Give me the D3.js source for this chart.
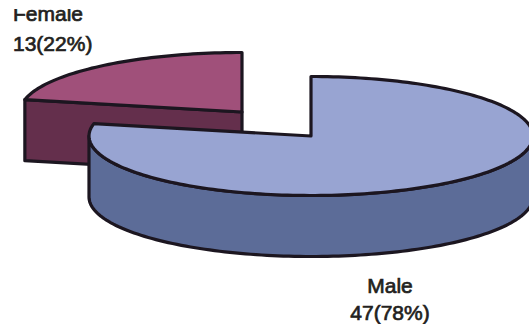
<!DOCTYPE html>
<html lang="en">
<head>
    <meta charset="UTF-8">
    <title>Gender distribution</title>
    <script src="https://d3js.org/d3.v7.min.js"></script>
    <style>
        html, body { margin: 0; padding: 0; background: #fff; overflow: hidden; }
        text { font-family: "Liberation Sans", Arial, sans-serif; font-size: 21px; fill: #231f20; stroke: #231f20; stroke-width: 0.7px; }
    </style>
</head>
<body>
<svg id="chart" width="529" height="324"></svg>
<script>
    var categories = ["Male", "Female"];
    var counts = [47, 13];
    var percents = [78, 22];
    var topColors = ["#98a4d2", "#a0507a"];
    var sideColors = ["#5c6c98", "#642f4c"];

    var outline = "#1c1620";

    var svg = d3.select("#chart");

    // exploded pie: each slice has its own centre on the tilted plane
    var centers = [[311, 136], [242, 112]];
    var rx = 222, ry = 59.5, depth = 61;

    var xScale = d3.scaleLinear().domain([-1, 1]).range([-rx, rx]);
    var yScale = d3.scaleLinear().domain([-1, 1]).range([ry, -ry]);

    var slices = d3.pie().sort(null)(counts);
    var line = d3.line();

    function rim(c, a0, a1, dy) {
        var n = Math.max(2, Math.ceil(Math.abs(a1 - a0) * 40));
        return d3.range(n + 1).map(function(i) {
            var a = a0 + (a1 - a0) * i / n;
            return [c[0] + xScale(Math.sin(a)), c[1] + yScale(Math.cos(a)) + dy];
        });
    }

    function drawFace(points, fill) {
        svg.append("path")
            .attr("d", line(points) + "Z")
            .attr("fill", fill)
            .attr("stroke", outline)
            .attr("stroke-width", 3.2)
            .attr("stroke-linejoin", "round");
    }

    // the female slice sits behind, so it is painted first
    [1, 0].forEach(function(i) {
        var s = slices[i], c = centers[i];
        if (i === 1) {
            // flat cut face toward the viewer
            var edge = rim(c, s.startAngle, s.startAngle, 0)[0];
            drawFace([edge, c, [c[0], c[1] + depth], [edge[0], edge[1] + depth]], sideColors[i]);
        } else {
            // outer wall from the right edge round to the left edge
            var front = rim(c, Math.PI / 2, Math.PI * 1.5, 0);
            var back = rim(c, Math.PI * 1.5, Math.PI / 2, depth);
            drawFace(front.concat(back), sideColors[i]);
        }
        drawFace([c].concat(rim(c, s.startAngle, s.endAngle, 0)), topColors[i]);
    });

    var labels = [
        { name: categories[0], x: 390, y0: 293, y1: 320, anchor: "middle", i: 0 },
        { name: categories[1], x: 13, y0: 21, y1: 51, anchor: "start", i: 1 }
    ];
    labels.forEach(function(d) {
        svg.append("text").attr("x", d.x).attr("y", d.y0).attr("text-anchor", d.anchor).text(d.name);
        svg.append("text").attr("x", d.x).attr("y", d.y1).attr("text-anchor", d.anchor)
            .text(counts[d.i] + "(" + percents[d.i] + "%)");
    });

    // the top of the first label runs off the page area
    svg.append("rect").attr("width", 120).attr("height", 9).attr("fill", "#fff");
</script>
</body>
</html>
